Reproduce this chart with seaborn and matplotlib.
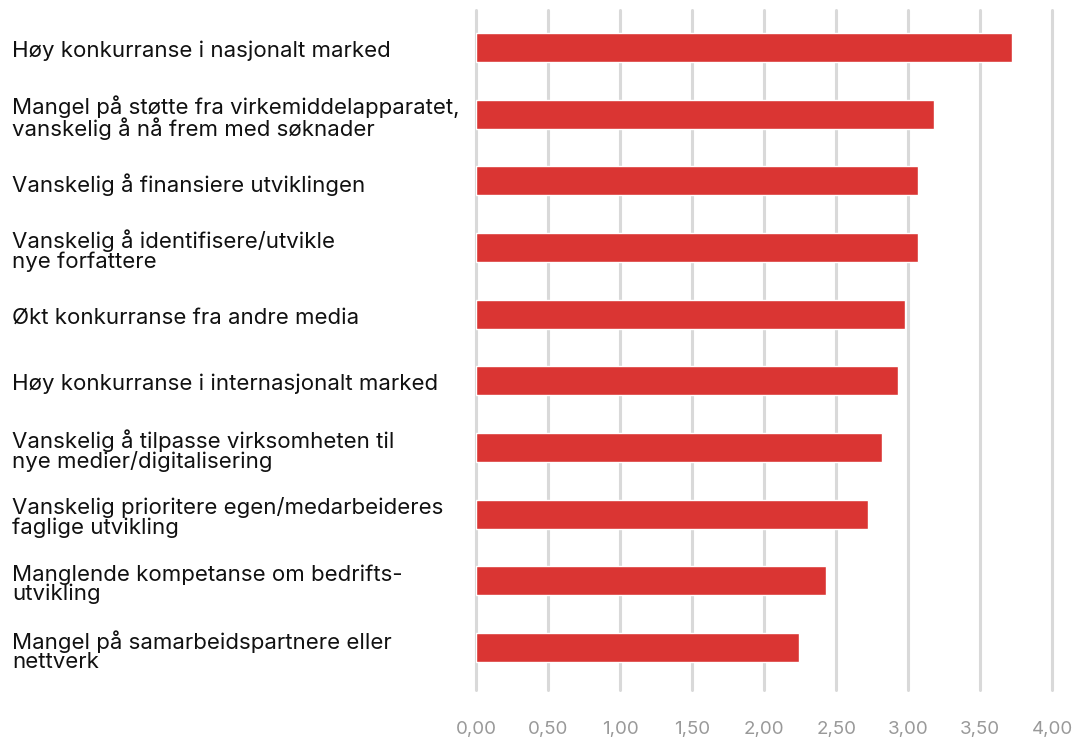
import matplotlib
matplotlib.use("Agg")
import matplotlib.pyplot as plt
import matplotlib.transforms as mtransforms
import seaborn as sns
import pandas as pd

categories = [
    "Høy konkurranse i nasjonalt marked",
    "Mangel på støtte fra virkemiddelapparatet,\nvanskelig å nå frem med søknader",
    "Vanskelig å finansiere utviklingen",
    "Vanskelig å identifisere/utvikle\nnye forfattere",
    "Økt konkurranse fra andre media",
    "Høy konkurranse i internasjonalt marked",
    "Vanskelig å tilpasse virksomheten til\nnye medier/digitalisering",
    "Vanskelig prioritere egen/medarbeideres\nfaglige utvikling",
    "Manglende kompetanse om bedrifts-\nutvikling",
    "Mangel på samarbeidspartnere eller\nnettverk",
]
values = [3.72, 3.18, 3.07, 3.07, 2.98, 2.93, 2.82, 2.72, 2.43, 2.24]
x_ticks = [0.0, 0.5, 1.0, 1.5, 2.0, 2.5, 3.0, 3.5, 4.0]
x_tick_labels = ["0,00", "0,50", "1,00", "1,50", "2,00", "2,50", "3,00", "3,50", "4,00"]

sns.set_theme(style="white")
plt.rcParams["font.family"] = ["Inter", "DejaVu Sans"]

df = pd.DataFrame({"cat": categories, "val": values})

fig = plt.figure(figsize=(10.78, 7.40), dpi=100)
W, H = 1078, 740
ax = fig.add_axes([476.3 / W, 1 - 690 / H, (1052.3 - 476.3) / W, 680 / H])

sns.barplot(data=df, x="val", y="cat", orient="h", color="#da3533",
            saturation=1, width=0.435, ax=ax, zorder=3)

ax.set_xlim(0, 4)
ax.set_ylim(9 + 42.5 / 66.7, -37.5 / 66.7)
ax.set_xticks(x_ticks)
ax.set_xticklabels(x_tick_labels, color="#999999", fontsize=13.5)
ax.tick_params(axis="x", length=0, pad=22)
ax.set_yticks([])
ax.set_xlabel("")
ax.set_ylabel("")
ax.xaxis.grid(True, color="#d9d9d9", linewidth=2.2, zorder=0)
ax.set_axisbelow(True)
for gl in ax.get_xgridlines():
    gl.set_clip_on(False)
for s in ax.spines.values():
    s.set_visible(False)

trans = mtransforms.blended_transform_factory(fig.transFigure, ax.transData)
for i, c in enumerate(categories):
    ax.text(12 / W, i + 0.05, c, transform=trans, ha="left", va="center",
            fontsize=16, color="#111111", linespacing=0.96)

fig.savefig("out.png", dpi=100)
